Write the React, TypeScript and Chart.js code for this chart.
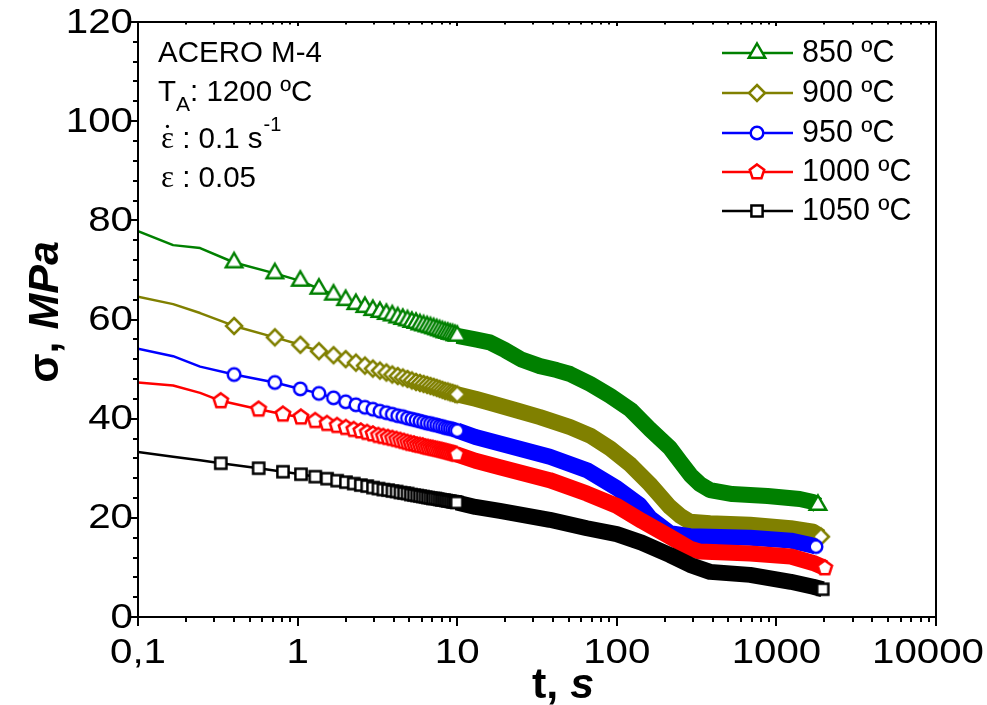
import { useEffect, useRef } from 'react';
import { Chart, registerables } from 'chart.js';

Chart.register(...registerables);

// ---------------- data ----------------
const seriesLabels = ['850 ºC', '900 ºC', '950 ºC', '1000 ºC', '1050 ºC'];
const seriesColors = ['#008000', '#808000', '#0000ff', '#ff0000', '#000000'];
const seriesShapes = ['triangle', 'diamond', 'circle', 'pentagon', 'square'];

const xTickValues = [0.1, 1, 10, 100, 1000, 10000];
const xTickLabels = ['0,1', '1', '10', '100', '1000', '10000'];
const yTickValues = [0, 20, 40, 60, 80, 100, 120];
const yTickLabels = ['0', '20', '40', '60', '80', '100', '120'];

const leadTimes = [0.1, 0.166, 0.245];

const markTimesA = [0.40, 0.72, 1.04, 1.36, 1.68, 2.00, 2.32, 2.64, 2.96, 3.28, 3.60, 3.92, 4.24, 4.56, 4.88, 5.20, 5.52, 5.84, 6.16, 6.48, 6.80, 7.12, 7.44, 7.76, 8.08, 8.40, 8.72, 9.04, 9.36, 9.68, 10.0];
const markTimesB = [0.33, 0.57, 0.81, 1.05, 1.29, 1.53, 1.77, 2.01, 2.25, 2.49, 2.73, 2.97, 3.21, 3.45, 3.69, 3.93, 4.17, 4.41, 4.65, 4.89, 5.13, 5.37, 5.61, 5.85, 6.09, 6.33, 6.57, 6.81, 7.05, 7.29, 7.53, 7.77, 8.01, 8.25, 8.49, 8.73, 8.97, 9.21, 9.45, 9.69, 9.93];

// 850 ºC
const lead850 = [77.8, 75.0, 74.4];
const mark850 = [71.5, 69.3, 67.8, 66.2, 65.0, 63.9, 63.1, 62.5, 61.9, 61.5, 61.1, 60.8, 60.4, 60.1, 59.8, 59.5, 59.3, 59.0, 58.8, 58.6, 58.4, 58.2, 58.0, 57.8, 57.6, 57.4, 57.3, 57.1, 57.0, 56.8, 56.7];
const bandT850 = [13, 16, 20, 25, 33, 42, 51, 68, 91, 122, 161, 215, 250, 290, 332, 384, 530, 880, 1400, 1700, 1820];
const bandS850 = [56.0, 55.4, 53.8, 52.0, 50.6, 49.8, 49.0, 47.0, 44.6, 41.8, 37.9, 34.1, 31.3, 28.6, 26.8, 25.6, 24.8, 24.4, 23.8, 23.2, 22.6];

// 900 ºC
const lead900 = [64.6, 63.1, 61.3];
const mark900 = [58.7, 56.4, 54.9, 53.6, 52.8, 52.0, 51.3, 50.7, 50.1, 49.7, 49.3, 48.9, 48.6, 48.3, 48.0, 47.7, 47.4, 47.2, 47.0, 46.8, 46.6, 46.4, 46.2, 46.0, 45.8, 45.6, 45.5, 45.3, 45.2, 45.0, 44.9];
const bandT900 = [13, 16, 24, 33, 51, 68, 91, 122, 161, 215, 250, 288, 384, 684, 1230, 1700, 1900];
const bandS900 = [44.0, 43.2, 41.6, 40.3, 38.3, 36.6, 34.0, 30.7, 26.8, 22.2, 20.4, 19.2, 18.9, 18.6, 17.9, 17.2, 16.2];

// 950 ºC
const lead950 = [54.1, 52.6, 50.5];
const mark950 = [48.9, 47.3, 46.0, 45.1, 44.2, 43.4, 42.8, 42.3, 41.9, 41.5, 41.2, 40.9, 40.6, 40.4, 40.1, 39.9, 39.7, 39.5, 39.3, 39.1, 39.0, 38.8, 38.7, 38.5, 38.4, 38.2, 38.1, 38.0, 37.9, 37.7, 37.6];
const bandT950 = [13, 18.5, 38, 65, 100, 139, 161, 215, 288, 684, 1230, 1650, 1770];
const bandS950 = [36.3, 35.0, 32.3, 29.6, 26.0, 22.6, 20.0, 16.9, 16.3, 16.0, 15.4, 14.5, 14.2];

// 1000 ºC
const lead1000 = [47.3, 46.7, 45.2];
const mark1000 = [43.6, 41.9, 40.9, 40.3, 39.6, 39.0, 38.6, 38.2, 37.8, 37.5, 37.2, 36.9, 36.6, 36.4, 36.2, 36.0, 35.8, 35.6, 35.4, 35.2, 35.0, 34.9, 34.7, 34.6, 34.5, 34.3, 34.2, 34.1, 34.0, 33.9, 33.8, 33.7, 33.6, 33.5, 33.4, 33.3, 33.2, 33.1, 33.0, 32.9, 32.8];
const bandT1000 = [13, 18.5, 38, 65, 100, 143, 215, 288, 332, 684, 1230, 1700, 2010];
const bandS1000 = [31.5, 30.2, 27.6, 24.9, 22.4, 19.4, 16.2, 13.8, 13.2, 12.8, 12.2, 10.9, 9.9];

// 1050 ºC
const lead1050 = [33.3, 32.3, 31.6];
const mark1050 = [31.0, 30.0, 29.3, 28.8, 28.3, 27.9, 27.5, 27.2, 26.9, 26.6, 26.4, 26.1, 25.9, 25.7, 25.6, 25.4, 25.3, 25.1, 25.0, 24.9, 24.7, 24.6, 24.5, 24.4, 24.3, 24.2, 24.1, 24.0, 23.9, 23.9, 23.8, 23.7, 23.6, 23.6, 23.5, 23.4, 23.4, 23.3, 23.2, 23.2, 23.1];
const bandT1050 = [13, 18.5, 38, 65, 100, 143, 215, 288, 384, 684, 1230, 1700, 1950];
const bandS1050 = [22.2, 21.4, 19.6, 17.9, 16.7, 15.0, 12.5, 10.5, 9.1, 8.5, 7.1, 6.1, 5.6];

// ---------------- styling helpers ----------------
const SANS = '"Liberation Sans", Arial, sans-serif';
const SERIF = '"Liberation Serif", "Times New Roman", serif';

function drawMarkerShape(ctx: CanvasRenderingContext2D, shape: string, cx: number, cy: number, color: string) {
  ctx.save();
  ctx.lineWidth = 2.5;
  ctx.strokeStyle = color;
  ctx.fillStyle = '#ffffff';
  ctx.lineJoin = 'miter';
  ctx.beginPath();
  if (shape === 'triangle') {
    const R = 9.5;
    ctx.moveTo(cx, cy - R);
    ctx.lineTo(cx + R * 0.866, cy + R * 0.5);
    ctx.lineTo(cx - R * 0.866, cy + R * 0.5);
    ctx.closePath();
  } else if (shape === 'diamond') {
    const R = 8;
    ctx.moveTo(cx, cy - R);
    ctx.lineTo(cx + R, cy);
    ctx.lineTo(cx, cy + R);
    ctx.lineTo(cx - R, cy);
    ctx.closePath();
  } else if (shape === 'circle') {
    ctx.arc(cx, cy, 6.3, 0, Math.PI * 2);
  } else if (shape === 'pentagon') {
    const R = 7.6;
    for (let k = 0; k < 5; k++) {
      const a = -Math.PI / 2 + (k * 2 * Math.PI) / 5;
      const px = cx + R * Math.cos(a);
      const py = cy + R * Math.sin(a);
      if (k === 0) ctx.moveTo(px, py);
      else ctx.lineTo(px, py);
    }
    ctx.closePath();
  } else {
    const h = 5.6;
    ctx.rect(cx - h, cy - h, 2 * h, 2 * h);
  }
  ctx.fill();
  ctx.stroke();
  ctx.restore();
}

function makeMarker(shape: string, color: string) {
  const c = document.createElement('canvas');
  c.width = 26;
  c.height = 26;
  const g = c.getContext('2d') as CanvasRenderingContext2D;
  drawMarkerShape(g, shape, 13, 13, color);
  return c;
}

function buildSeries(idx: number, leadS: number[], markT: number[], markS: number[], bandT: number[], bandS: number[]) {
  const data: { x: number; y: number }[] = [];
  leadTimes.forEach((t, i) => data.push({ x: t, y: leadS[i] }));
  markT.forEach((t, i) => data.push({ x: t, y: markS[i] }));
  bandT.forEach((t, i) => data.push({ x: t, y: bandS[i] }));
  const m0 = leadTimes.length;
  const m1 = m0 + markT.length;
  const last = data.length - 1;
  const color = seriesColors[idx];
  return {
    label: seriesLabels[idx],
    data,
    borderColor: color,
    backgroundColor: color,
    borderWidth: 2.5,
    borderJoinStyle: 'round',
    borderCapStyle: 'butt',
    tension: 0,
    fill: false,
    pointStyle: makeMarker(seriesShapes[idx], color),
    pointRadius: (c: any) => ((c.dataIndex >= m0 && c.dataIndex < m1) || c.dataIndex === last ? 8 : 0),
    pointHoverRadius: 0,
    segment: {
      borderWidth: (s: any) => (s.p0.parsed.x >= 9.9 ? 16 : 2.5),
    },
  };
}

function drawRich(ctx: CanvasRenderingContext2D, parts: { t: string; f: string }[], x: number, y: number) {
  let cx = x;
  for (const p of parts) {
    ctx.font = p.f;
    ctx.fillText(p.t, cx, y);
    cx += ctx.measureText(p.t).width;
  }
  return cx;
}

function richWidth(ctx: CanvasRenderingContext2D, parts: { t: string; f: string }[]) {
  let w = 0;
  for (const p of parts) {
    ctx.font = p.f;
    w += ctx.measureText(p.t).width;
  }
  return w;
}

function fillStretched(ctx: CanvasRenderingContext2D, text: string, x: number, y: number, sx: number) {
  ctx.save();
  ctx.translate(x, y);
  ctx.scale(sx, 1);
  ctx.fillText(text, 0, 0);
  ctx.restore();
}

const TICK_FONT = '35px ' + SANS;
const TICK_SX = 1.15;

const decorPlugin = {
  id: 'decor',
  afterDatasetsDraw(chart: any) {
    const { ctx, chartArea: a, scales } = chart;
    const xs = scales.x;
    const ys = scales.y;
    ctx.save();
    ctx.strokeStyle = '#000';
    ctx.fillStyle = '#000';
    ctx.lineWidth = 2;
    ctx.lineCap = 'butt';
    ctx.strokeRect(a.left, a.top, a.right - a.left, a.bottom - a.top);

    // y ticks
    ctx.beginPath();
    for (let v = 0; v <= 120; v += 4) {
      const y = Math.round(ys.getPixelForValue(v));
      const len = v % 20 === 0 ? 9 : 5;
      ctx.moveTo(a.left, y);
      ctx.lineTo(a.left - len, y);
    }
    // x ticks
    for (let d = 0; d < xTickValues.length; d++) {
      const base = xTickValues[d];
      const xm = Math.round(xs.getPixelForValue(base));
      ctx.moveTo(xm, a.bottom);
      ctx.lineTo(xm, a.bottom + 9);
      ctx.moveTo(xm, a.top);
      ctx.lineTo(xm, a.top + 4);
      if (d < xTickValues.length - 1) {
        for (let k = 2; k <= 9; k++) {
          const x = Math.round(xs.getPixelForValue(base * k));
          ctx.moveTo(x, a.bottom);
          ctx.lineTo(x, a.bottom + 5);
          ctx.moveTo(x, a.top);
          ctx.lineTo(x, a.top + 2.5);
        }
      }
    }
    ctx.stroke();

    // tick labels
    ctx.font = TICK_FONT;
    ctx.textAlign = 'right';
    ctx.textBaseline = 'middle';
    yTickValues.forEach((v, i) => {
      fillStretched(ctx, yTickLabels[i], a.left - 5, ys.getPixelForValue(v) + 1, TICK_SX);
    });
    ctx.textAlign = 'center';
    ctx.textBaseline = 'top';
    const W = chart.width;
    xTickValues.forEach((v, i) => {
      const w = ctx.measureText(xTickLabels[i]).width * TICK_SX;
      let x = xs.getPixelForValue(v);
      if (x + w / 2 > W - 3) x = W - 3 - w / 2;
      fillStretched(ctx, xTickLabels[i], x, a.bottom + 19, TICK_SX);
    });

    // axis titles
    ctx.textAlign = 'left';
    ctx.textBaseline = 'alphabetic';
    const xt = [
      { t: 't, ', f: 'bold 43px ' + SANS },
      { t: 's', f: 'italic bold 43px ' + SANS },
    ];
    const xw = richWidth(ctx, xt);
    drawRich(ctx, xt, 563 - xw / 2, 698);

    const yt = [
      { t: 'σ, ', f: 'bold 43px ' + SANS },
      { t: 'MPa', f: 'italic bold 43px ' + SANS },
    ];
    const yw = richWidth(ctx, yt);
    ctx.save();
    ctx.translate(58, 312);
    ctx.rotate(-Math.PI / 2);
    drawRich(ctx, yt, -yw / 2, 0);
    ctx.restore();

    // legend
    const rowY = [53, 93, 133, 172, 211];
    seriesLabels.forEach((lab, i) => {
      const y = rowY[i];
      ctx.strokeStyle = seriesColors[i];
      ctx.lineWidth = 2.5;
      ctx.beginPath();
      ctx.moveTo(722, y);
      ctx.lineTo(793, y);
      ctx.stroke();
      drawMarkerShape(ctx, seriesShapes[i], 757, y, seriesColors[i]);
      ctx.fillStyle = '#000';
      ctx.font = '30.5px ' + SANS;
      ctx.textAlign = 'left';
      ctx.textBaseline = 'middle';
      ctx.fillText(lab, 802, y + 1);
    });

    // annotation
    ctx.fillStyle = '#000';
    ctx.textAlign = 'left';
    ctx.textBaseline = 'alphabetic';
    const f28 = '29.5px ' + SANS;
    ctx.font = f28;
    ctx.fillText('ACERO M-4', 158, 62);
    ctx.fillText('T', 158, 101);
    let cx = 158 + ctx.measureText('T').width;
    ctx.font = '21px ' + SANS;
    ctx.fillText('A', cx, 111);
    cx += ctx.measureText('A').width;
    ctx.font = f28;
    ctx.fillText(': 1200 ºC', cx, 101);

    // strain rate line
    ctx.font = '31px ' + SERIF;
    ctx.fillText('ε', 161, 148);
    const ew = ctx.measureText('ε').width;
    const dw = ctx.measureText('˙').width;
    ctx.fillText('˙', 161 + ew / 2 - dw / 2, 146);
    ctx.font = f28;
    cx = 161 + ew;
    ctx.fillText(' : 0.1 s', cx, 148);
    cx += ctx.measureText(' : 0.1 s').width;
    ctx.font = '20px ' + SANS;
    ctx.fillText('-1', cx + 1, 131);

    // strain line
    ctx.font = '31px ' + SERIF;
    ctx.fillText('ε', 161, 187);
    ctx.font = f28;
    ctx.fillText(' : 0.05', 161 + ew, 187);

    ctx.restore();
  },
};

export default function App() {
  const canvasRef = useRef<HTMLCanvasElement | null>(null);

  useEffect(() => {
    const canvas = canvasRef.current;
    if (!canvas) return;
    const datasets = [
      buildSeries(4, lead1050, markTimesB, mark1050, bandT1050, bandS1050),
      buildSeries(3, lead1000, markTimesB, mark1000, bandT1000, bandS1000),
      buildSeries(2, lead950, markTimesA, mark950, bandT950, bandS950),
      buildSeries(1, lead900, markTimesA, mark900, bandT900, bandS900),
      buildSeries(0, lead850, markTimesA, mark850, bandT850, bandS850),
    ];
    const chart = new Chart(canvas, {
      type: 'line',
      data: { datasets: datasets as any },
      options: {
        animation: false,
        responsive: false,
        events: [],
        layout: { padding: { left: 138, right: 51, top: 22, bottom: 88 } },
        plugins: {
          legend: { display: false },
          tooltip: { enabled: false },
        },
        scales: {
          x: { type: 'logarithmic', min: 0.1, max: 10000, display: false },
          y: { type: 'linear', min: 0, max: 120, display: false },
        },
      },
      plugins: [decorPlugin as any],
    });
    return () => chart.destroy();
  }, []);

  return (
    <div style={{ position: 'fixed', left: 0, top: 0, width: 987, height: 705, background: '#fff' }}>
      <canvas ref={canvasRef} width={987} height={705} style={{ display: 'block', width: 987, height: 705 }} />
    </div>
  );
}
